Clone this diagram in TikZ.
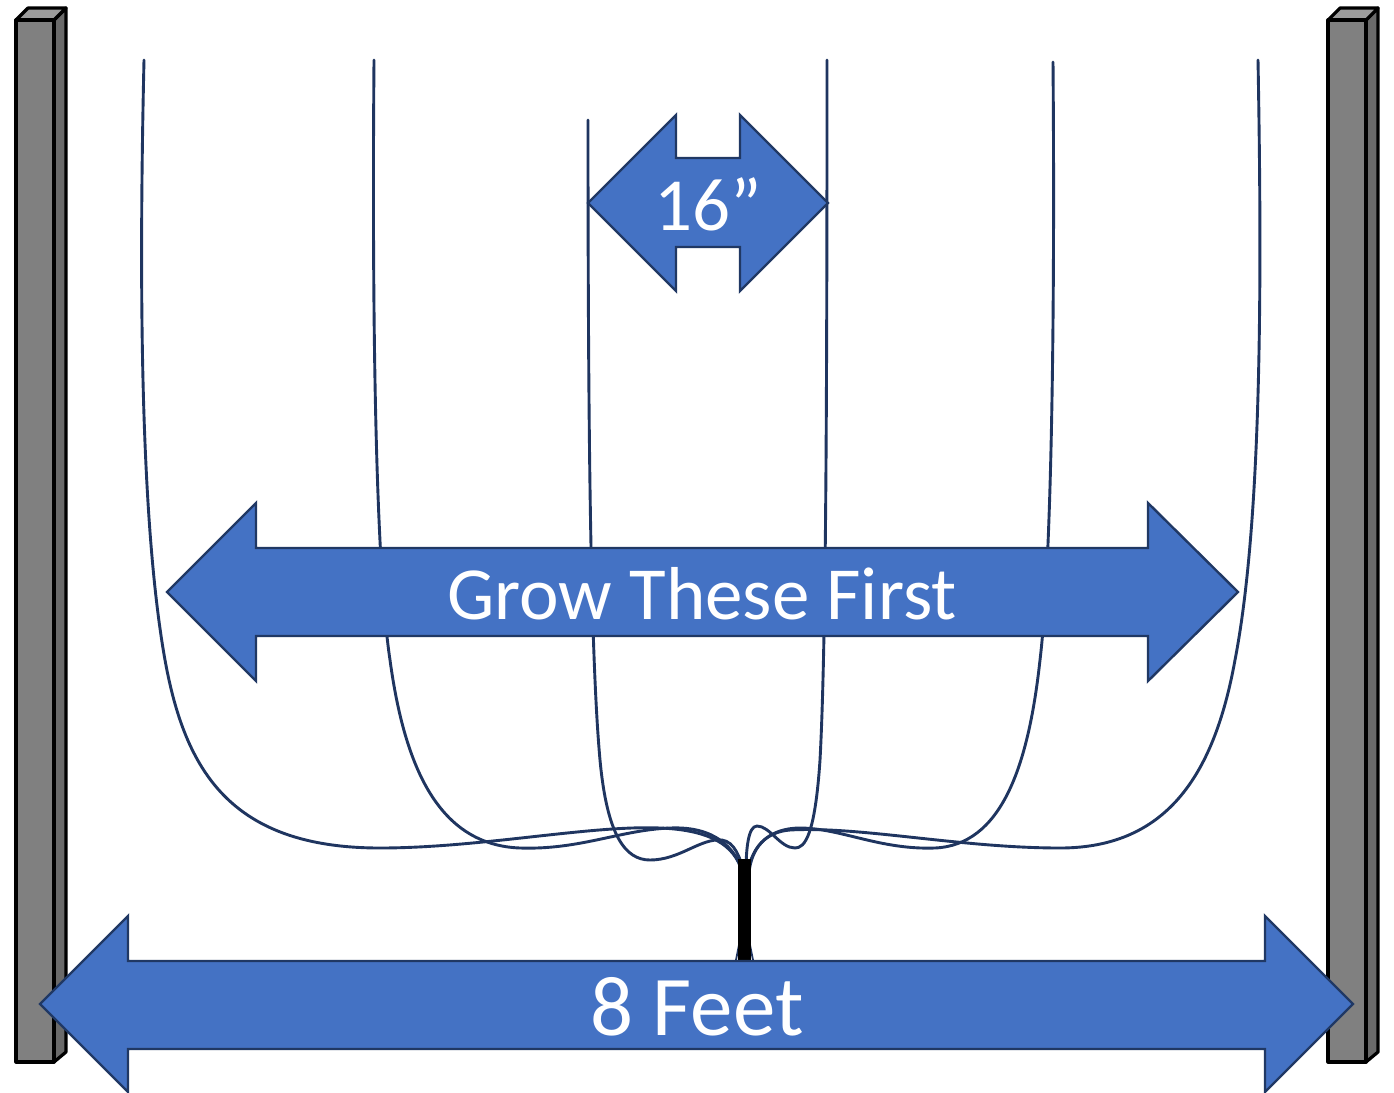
\documentclass[tikz,border=0pt]{standalone}
\usepackage{fontspec}
\setmainfont{Carlito}
\begin{document}
\begin{tikzpicture}[x=1pt,y=-1pt,
  vine/.style={draw=vinecol,line width=2.9pt,line cap=round},
  bluearrow/.style={fill=arrowfill,draw=arrowline,line width=2.4pt,line join=miter},
  postfront/.style={fill=postmid,draw=black,line width=3.2pt,line join=round},
  posttop/.style={fill=postlight,draw=black,line width=3.2pt,line join=round},
  postside/.style={fill=postdark,draw=black,line width=3.2pt,line join=round},
  label/.style={text=white,inner sep=0pt,anchor=center}]
\definecolor{vinecol}{HTML}{1F3560}
\definecolor{arrowfill}{HTML}{4472C4}
\definecolor{arrowline}{HTML}{203864}
\definecolor{postmid}{HTML}{808080}
\definecolor{postlight}{HTML}{9C9C9C}
\definecolor{postdark}{HTML}{6A6A6A}
\useasboundingbox (0,0) rectangle (1394,1092);
\fill[white] (0,0) rectangle (1394,1092);

% vines trained up from the trunk
\path[vine] (144,60) .. controls (139,280) and (140,520) .. (165,660)
  .. controls (185,770) and (230,848) .. (380,848)
  .. controls (480,848) and (590,825) .. (660,828)
  .. controls (710,830) and (735,845) .. (742,872);
\path[vine] (374,60) .. controls (372,300) and (375,560) .. (390,660)
  .. controls (405,770) and (440,845) .. (520,848)
  .. controls (580,850) and (620,830) .. (670,828)
  .. controls (715,826) and (735,848) .. (743,872);
\path[vine] (588,120) .. controls (588,400) and (590,650) .. (600,760)
  .. controls (607,835) and (625,860) .. (650,860)
  .. controls (680,860) and (700,838) .. (722,840)
  .. controls (735,842) and (740,858) .. (744,872);
\path[vine] (827,60) .. controls (827,400) and (826,650) .. (820,760)
  .. controls (815,835) and (805,848) .. (795,848)
  .. controls (780,848) and (770,826) .. (757,826)
  .. controls (748,826) and (746,850) .. (746,872);
\path[vine] (1053,62) .. controls (1055,300) and (1052,560) .. (1040,660)
  .. controls (1028,770) and (1000,845) .. (935,848)
  .. controls (880,850) and (840,828) .. (800,828)
  .. controls (770,828) and (752,845) .. (748,872);
\path[vine] (1258,60) .. controls (1262,280) and (1262,520) .. (1235,660)
  .. controls (1215,770) and (1170,848) .. (1060,848)
  .. controls (960,848) and (860,826) .. (790,830)
  .. controls (765,832) and (752,848) .. (749,872);
% roots at the foot of the trunk
\path[vine,line width=1.8pt] (741,935) -- (736,960);
\path[vine,line width=1.8pt] (748,935) -- (753,960);

% trunk
\fill[black] (738,859) rectangle (751,960);

% left post
\path[postside] (54,20) -- (66,8) -- (66,1052) -- (54,1062) -- cycle;
\path[posttop] (16,20) -- (28,8) -- (66,8) -- (54,20) -- cycle;
\path[postfront] (16,20) rectangle (54,1062);
% right post
\path[postside] (1366,20) -- (1378,8) -- (1378,1052) -- (1366,1062) -- cycle;
\path[posttop] (1328,20) -- (1340,8) -- (1378,8) -- (1366,20) -- cycle;
\path[postfront] (1328,20) rectangle (1366,1062);

% row spacing arrow
\path[bluearrow] (588,203) -- (676,115) -- (676,158) -- (740,158) -- (740,115)
  -- (828,203) -- (740,291) -- (740,247) -- (676,247) -- (676,291) -- cycle;
\node[label,font=\fontsize{75}{80}\selectfont] (spacing) at (708,204) {16”};

% first growth arrow
\path[bluearrow] (167,592) -- (256,503) -- (256,548) -- (1148,548) -- (1148,503)
  -- (1238,592) -- (1148,681) -- (1148,636) -- (256,636) -- (256,681) -- cycle;
\node[label,font=\fontsize{75}{80}\selectfont] (grow) at (702,594) {Grow These First};

% post-to-post width arrow
\path[bluearrow] (40,1004) -- (128,916) -- (128,961) -- (1265,961) -- (1265,916)
  -- (1353,1004) -- (1265,1092) -- (1265,1049) -- (128,1049) -- (128,1092) -- cycle;
\node[label,font=\fontsize{85}{90}\selectfont] (width) at (697,1007) {8 Feet};
\end{tikzpicture}
\end{document}
